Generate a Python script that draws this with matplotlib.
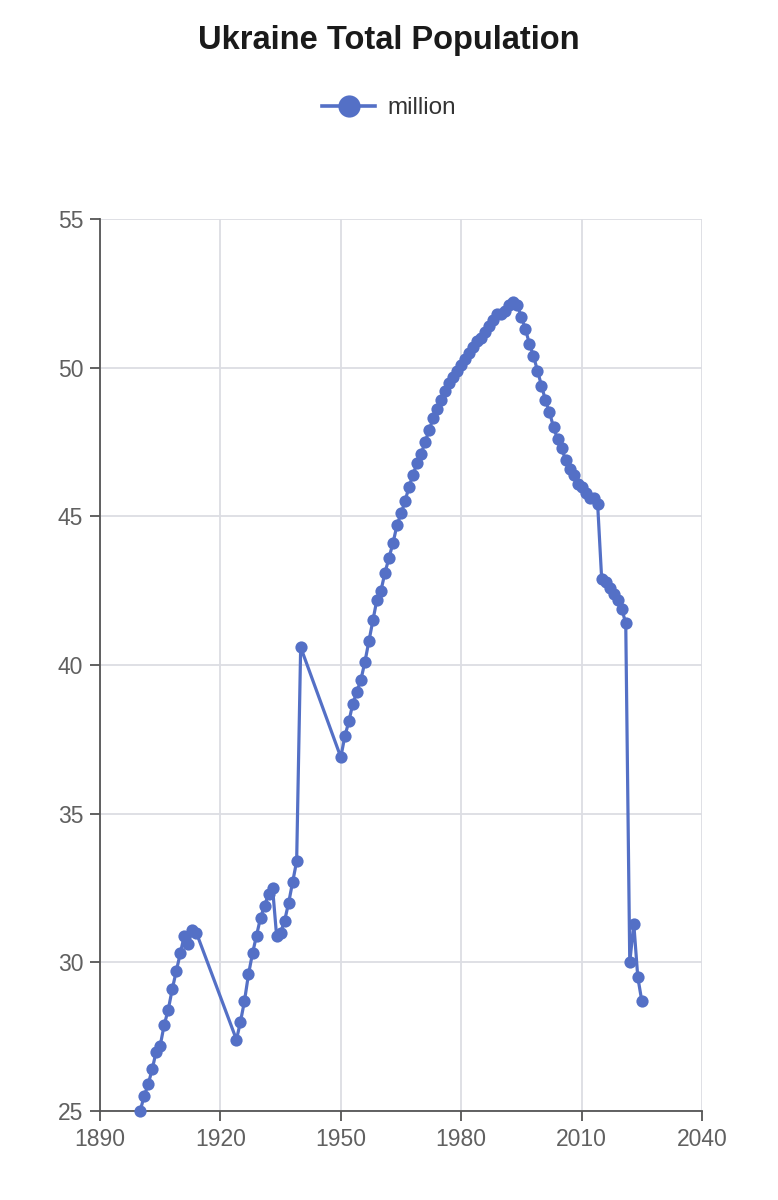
import matplotlib
matplotlib.use("Agg")
import matplotlib.pyplot as plt
from matplotlib.lines import Line2D

plt.rcParams['font.family'] = ['Liberation Sans', 'DejaVu Sans']

years = [1900, 1901, 1902, 1903, 1904, 1905, 1906, 1907, 1908, 1909,
         1910, 1911, 1912, 1913, 1914,
         1924, 1925, 1926, 1927, 1928, 1929, 1930, 1931, 1932, 1933,
         1934, 1935, 1936, 1937, 1938, 1939, 1940,
         1950, 1951, 1952, 1953, 1954, 1955, 1956, 1957, 1958, 1959,
         1960, 1961, 1962, 1963, 1964, 1965, 1966, 1967, 1968, 1969,
         1970, 1971, 1972, 1973, 1974, 1975, 1976, 1977, 1978, 1979,
         1980, 1981, 1982, 1983, 1984, 1985, 1986, 1987, 1988, 1989,
         1990, 1991, 1992, 1993, 1994, 1995, 1996, 1997, 1998, 1999,
         2000, 2001, 2002, 2003, 2004, 2005, 2006, 2007, 2008, 2009,
         2010, 2011, 2012, 2013, 2014, 2015, 2016, 2017, 2018, 2019,
         2020, 2021, 2022, 2023, 2024, 2025]
population = [25.0, 25.5, 25.9, 26.4, 27.0, 27.2, 27.9, 28.4, 29.1, 29.7,
              30.3, 30.9, 30.6, 31.1, 31.0,
              27.4, 28.0, 28.7, 29.6, 30.3, 30.9, 31.5, 31.9, 32.3, 32.5,
              30.9, 31.0, 31.4, 32.0, 32.7, 33.4, 40.6,
              36.9, 37.6, 38.1, 38.7, 39.1, 39.5, 40.1, 40.8, 41.5, 42.2,
              42.5, 43.1, 43.6, 44.1, 44.7, 45.1, 45.5, 46.0, 46.4, 46.8,
              47.1, 47.5, 47.9, 48.3, 48.6, 48.9, 49.2, 49.5, 49.7, 49.9,
              50.1, 50.3, 50.5, 50.7, 50.9, 51.0, 51.2, 51.4, 51.6, 51.8,
              51.8, 51.9, 52.1, 52.2, 52.1, 51.7, 51.3, 50.8, 50.4, 49.9,
              49.4, 48.9, 48.5, 48.0, 47.6, 47.3, 46.9, 46.6, 46.4, 46.1,
              46.0, 45.8, 45.6, 45.6, 45.4, 42.9, 42.8, 42.6, 42.4, 42.2,
              41.9, 41.4, 30.0, 31.3, 29.5, 28.7]

x_ticks = [1890, 1920, 1950, 1980, 2010, 2040]
y_ticks = [25, 30, 35, 40, 45, 50, 55]

color = '#5470c6'
axis_gray = '#555555'
label_gray = '#606060'
grid_gray = '#dcdde3'

fig = plt.figure(figsize=(7.78, 12), dpi=100)
ax = fig.add_axes([100 / 778, 89 / 1200, 602 / 778, 892 / 1200])

ax.plot(years, population, color=color, lw=2.3, marker='o', ms=8.8, mew=0,
        clip_on=False, zorder=3)

ax.set_xlim(1890, 2040)
ax.set_ylim(25, 55)
ax.set_xticks(x_ticks)
ax.set_yticks(y_ticks)
ax.grid(True, color=grid_gray, lw=1.3)
ax.set_axisbelow(True)

for s in ['top', 'right']:
    ax.spines[s].set_visible(False)
for s in ['left', 'bottom']:
    ax.spines[s].set_color(axis_gray)
    ax.spines[s].set_linewidth(1.3)
ax.tick_params(colors=axis_gray, labelcolor=label_gray, labelsize=16.5,
               length=7, width=1.3, pad=5)

fig.text(0.5, 1 - 40 / 1200, 'Ukraine Total Population', ha='center', va='center',
         fontsize=23.5, fontweight='bold', color='#1a1a1a')

handle = Line2D([], [], color=color, lw=2.6, marker='o', ms=16, mew=0)
fig.legend([handle], ['million'], loc='center', bbox_to_anchor=(0.5, 1 - 108 / 1200),
           frameon=False, fontsize=17.5, handlelength=2.2, handletextpad=0.5,
           labelcolor='#333333')

fig.savefig('out.png', dpi=100)
